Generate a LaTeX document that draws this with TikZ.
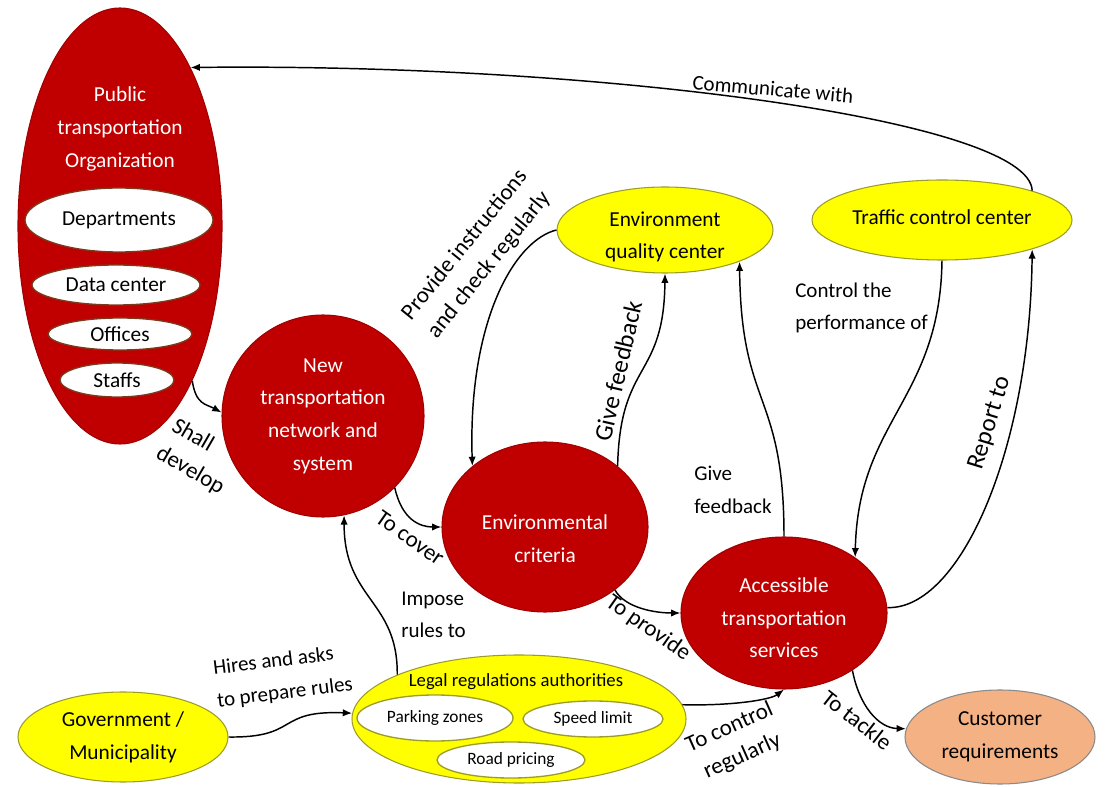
\documentclass[tikz,border=0pt]{standalone}
\usepackage{fontspec}
\setmainfont{Carlito}
\usetikzlibrary{shapes.geometric,arrows.meta}

\definecolor{orgred}{HTML}{C00000}
\definecolor{orgedge}{HTML}{A00000}
\definecolor{hiyel}{HTML}{FFFF00}
\definecolor{yeledge}{HTML}{9C9C2A}
\definecolor{pilledge}{HTML}{7B3A1E}
\definecolor{peach}{HTML}{F4B183}
\definecolor{peachedge}{HTML}{8A8A8A}

\tikzset{
  % oval={rx}{ry}: half axes given in picture units (1 unit = 0.75pt)
  oval/.style 2 args={ellipse, inner sep=0pt, minimum width=#1*1.5pt, minimum height=#2*1.5pt},
  redbox/.style={fill=orgred, draw=orgedge, line width=0.8pt, text=white},
  yelbox/.style={fill=hiyel, draw=yeledge, line width=0.8pt},
  pill/.style={fill=white, draw=pilledge, line width=1pt},
  yelpill/.style={fill=white, draw=yeledge, line width=1pt},
  peachbox/.style={fill=peach, draw=peachedge, line width=0.8pt},
  txt/.style={font=\fontsize{16}{24.5}\selectfont, inner sep=0pt},
  smalltxt/.style={font=\fontsize{13}{18}\selectfont, inner sep=0pt},
  lbl/.style={font=\fontsize{15.75}{24.5}\selectfont, inner sep=0pt},
  tiltlbl/.style={font=\fontsize{17.25}{23.5}\selectfont, inner sep=0pt},
  steeplbl/.style={font=\fontsize{18.75}{24}\selectfont, inner sep=0pt},
  conn/.style={line width=1.1pt, -{Latex[length=7pt,width=5.5pt]}},
}

\begin{document}
\begin{tikzpicture}[x=0.75pt,y=-0.75pt]
\useasboundingbox (0,0) rectangle (1107,787);

% ---- public transportation organization with its parts
\node[oval={102}{218}, redbox] (org) at (120,226) {};
\node[txt, text=white, align=center] (orgtitle) at (120,129) {Public\\transportation\\Organization};
\node[oval={94}{32}, pill, txt] (dep) at (119,220) {Departments};
\node[oval={84}{20}, pill, txt] (dat) at (116,285) {Data center};
\node[oval={72}{16}, pill, txt] (off) at (120,334) {Offices};
\node[oval={57}{17}, pill, txt] (sta) at (117,380) {Staffs};

% ---- main red nodes
\node[oval={101}{101}, redbox, txt, align=center] (ntn) at (323,416) {New\\transportation\\network and\\system};
\node[oval={103}{85}, redbox] (env) at (545,527) {};
\node[txt, text=white, align=center] (envtxt) at (545,539) {Environmental\\criteria};
\node[oval={103}{76}, redbox] (acc) at (784,613) {};
\node[txt, text=white, align=center] (acctxt) at (784,618) {Accessible\\transportation\\services};

% ---- yellow nodes
\node[oval={108}{43}, yelbox] (eqc) at (665,230) {};
\node[txt, align=center] (eqctxt) at (665,237) {Environment\\quality center};
\node[oval={130}{40}, yelbox, txt] (tcc) at (942,220) {\raisebox{5pt}{Traffic control center}};
\node[oval={105}{45}, yelbox, txt, align=center] (gov) at (123,737) {Government /\\Municipality};

\node[oval={167}{64}, yelbox] (leg) at (519,719) {};
\node[font=\fontsize{14}{18}\selectfont, inner sep=0pt] (legtxt) at (516,682) {Legal regulations authorities};
\node[oval={78}{23}, yelpill, smalltxt] (park) at (435,718) {Parking zones};
\node[oval={70}{18}, yelpill, smalltxt] (spd) at (593,719) {Speed limit};
\node[oval={74}{18}, yelpill, smalltxt] (road) at (511,760) {Road pricing};

\node[oval={95}{47}, peachbox, txt, align=center] (cus) at (1000,737) {Customer\\requirements};

% ---- connectors
\draw[conn] (tcc.18) .. controls (1030,120) and (600,63) .. (org.66);
\draw[conn] (org.-65) .. controls (196,405) and (206,404) .. (ntn.178);
\draw[conn] (ntn.-45) .. controls (402,520) and (420,527) .. (env.180);
\draw[conn] (eqc.180) .. controls (515,240) and (468,320) .. (env.140);
\draw[conn] (env.40) .. controls (620,360) and (664,380) .. (eqc.270);
\draw[conn] (acc.90) .. controls (784,390) and (741,410) .. (eqc.-23);
\draw[conn] (tcc.270) .. controls (940,400) and (858,420) .. (acc.38);
\draw[conn] (acc.3) .. controls (960,610) and (1030,450) .. (tcc.-18);
\draw[conn] (env.-42) .. controls (625,608) and (655,613) .. (acc.180);
\draw[conn] (leg.160) .. controls (398,600) and (344,600) .. (ntn.-78);
\draw[conn] (gov.0) .. controls (300,738) and (275,710) .. (leg.178);
\draw[conn] (leg.5) .. controls (730,706) and (770,700) .. (acc.270);
\draw[conn] (acc.-40) .. controls (859,705) and (878,728) .. (cus.175);

% ---- connector labels
\node[lbl, rotate=-5] (lcomm) at (773,89) {Communicate with};
\node[tiltlbl, rotate=-30, align=left] (lshall) at (198,457) {Shall\\develop};
\node[tiltlbl, rotate=-35] (lcover) at (410,538) {To cover};
\node[tiltlbl, rotate=51, align=center] (linstr) at (477,255) {Provide instructions\\and check regularly};
\node[steeplbl, rotate=77] (lfb1) at (618,371) {Give feedback};
\node[lbl, align=left, anchor=west] (lfb2) at (694,490) {Give\\feedback};
\node[lbl, align=left, anchor=west] (lperf) at (795,308) {Control the\\performance of};
\node[steeplbl, rotate=73] (lrep) at (990,423) {Report to};
\node[tiltlbl, rotate=-35] (lprov) at (648,628) {To provide};
\node[lbl, align=left, anchor=west] (limp) at (401,615) {Impose\\rules to};
\node[lbl, rotate=7, align=left] (lhire) at (283,677) {Hires and asks\\to prepare rules};
\node[tiltlbl, rotate=24, align=center] (lctrl) at (736,742) {To control\\regularly};
\node[tiltlbl, rotate=-38] (ltack) at (857,720) {To tackle};
\end{tikzpicture}
\end{document}
